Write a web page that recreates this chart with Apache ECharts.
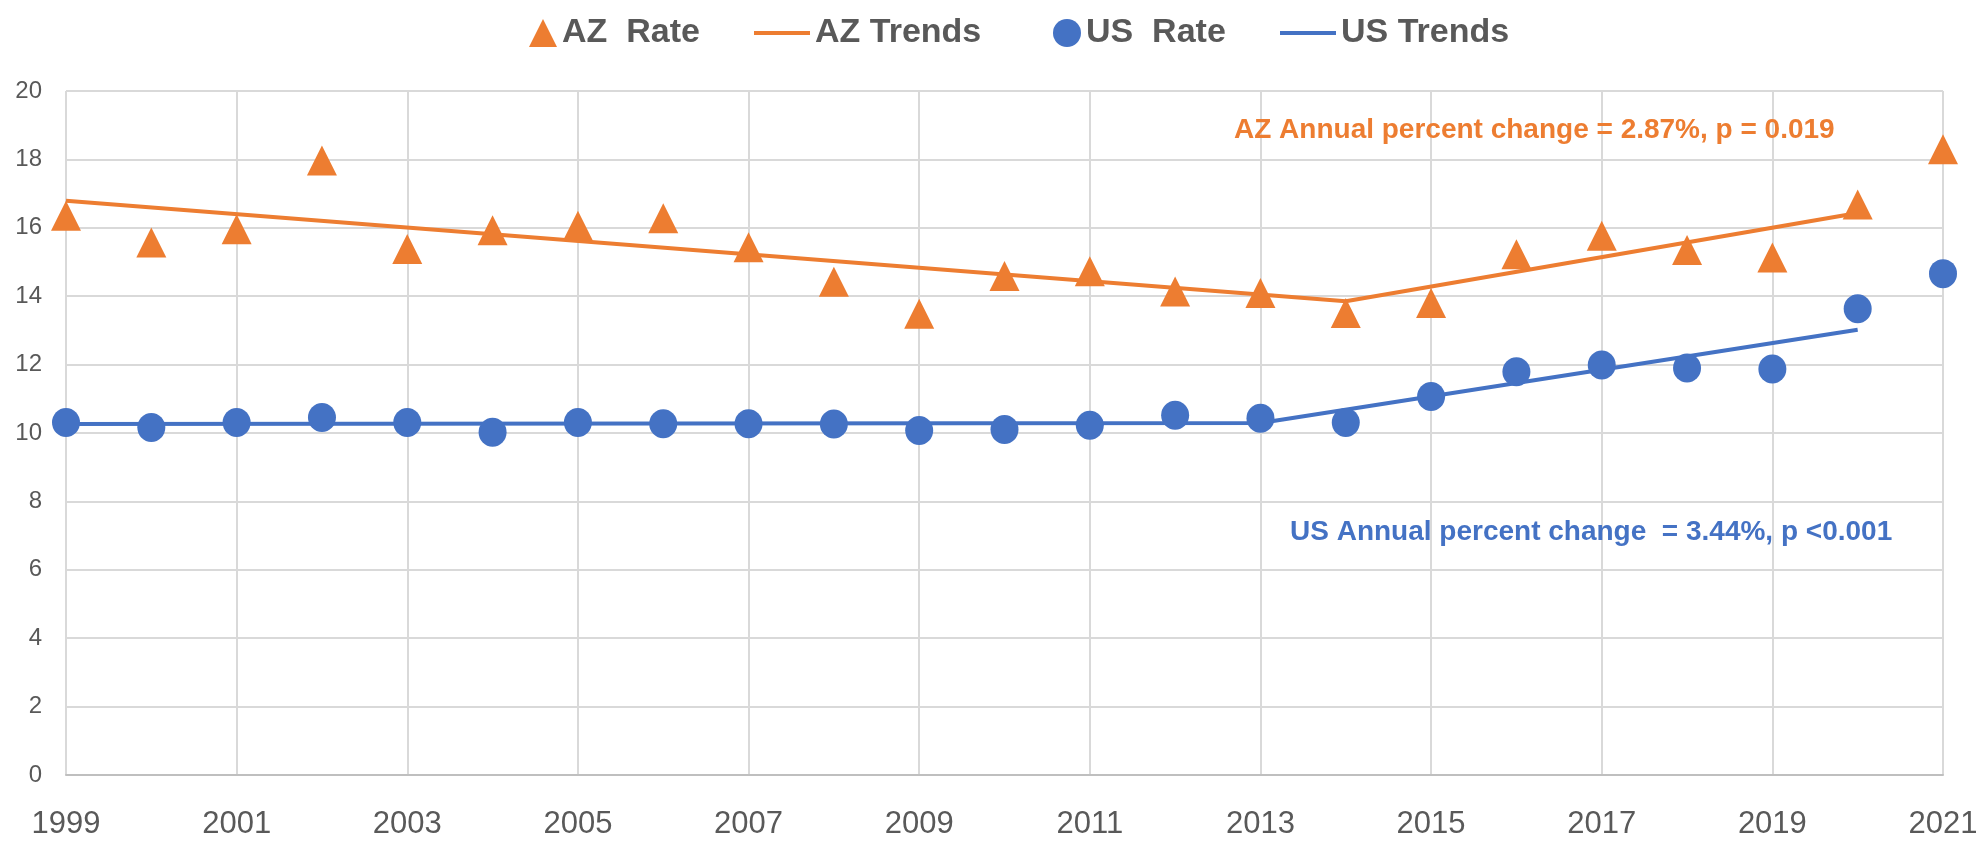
<!DOCTYPE html>
<html>
<head>
<meta charset="utf-8">
<script src="https://cdn.jsdelivr.net/npm/echarts@6/dist/echarts.min.js"></script>
<style>
  html, body { margin: 0; padding: 0; background: #fff; }
  #chart { width: 1985px; height: 842px; }
</style>
</head>
<body>
<div id="chart"></div>
<script>
// years on the x axis
var years = ['1999', '2000', '2001', '2002', '2003', '2004', '2005', '2006', '2007', '2008', '2009',
  '2010', '2011', '2012', '2013', '2014', '2015', '2016', '2017', '2018', '2019', '2020', '2021']

// observed rates
var azRate = [16.35, 15.57, 15.96, 17.97, 15.38, 15.93, 16.06, 16.28, 15.43, 14.42, 13.49,
  14.59, 14.73, 14.14, 14.09, 13.51, 13.80, 15.23, 15.77, 15.35, 15.13, 16.68, 18.30]
var usRate = [10.31, 10.16, 10.31, 10.45, 10.31, 10.02, 10.31, 10.27, 10.27, 10.26, 10.07,
  10.10, 10.23, 10.52, 10.43, 10.31, 11.07, 11.79, 11.99, 11.90, 11.87, 13.63, 14.66]

// joinpoint trend lines (start, joinpoint, end)
var azTrendYears = ['1999', '2014', '2020']
var azTrend = [16.79, 13.85, 16.43]
var usTrendYears = ['1999', '2013', '2020']
var usTrend = [10.26, 10.29, 13.02]

var yTicks = { min: 0, max: 20, step: 2 }

var ORANGE = '#ED7D31'
var BLUE = '#4472C4'
var FONT = '"Liberation Sans Narrow", "Liberation Sans", sans-serif'

function pairs(xs, ys) {
  return xs.map(function (x, i) { return [x, ys[i]] })
}

// one legend box per item so each icon can have its own size
function legendItem(name, left, icon, w, h) {
  return {
    left: left,
    top: 8,
    icon: icon,
    itemWidth: w,
    itemHeight: h,
    selectedMode: false,
    textStyle: { fontSize: 34, fontWeight: 'bold', color: '#595959', fontFamily: FONT, lineHeight: 40 },
    data: [name]
  }
}

var chart = echarts.init(document.getElementById('chart'))
chart.setOption({
  animation: false,
  textStyle: { fontFamily: FONT },
  legend: [
    legendItem('AZ  Rate', 524, 'triangle', 28, 28),
    legendItem('AZ Trends', 749, 'rect', 56, 4),
    legendItem('US  Rate', 1048, 'circle', 28, 28),
    legendItem('US Trends', 1275, 'rect', 56, 4)
  ],
  grid: { left: 66, right: 42, top: 91, bottom: 67 },
  xAxis: {
    type: 'category',
    data: years,
    boundaryGap: false,
    axisLine: { lineStyle: { color: '#BFBFBF', width: 2 } },
    axisTick: { show: false },
    axisLabel: { interval: 1, fontSize: 31, color: '#595959', margin: 34, fontFamily: FONT },
    splitLine: { show: true, interval: 1, lineStyle: { color: '#D9D9D9', width: 2 } }
  },
  yAxis: {
    type: 'value',
    min: yTicks.min,
    max: yTicks.max,
    interval: yTicks.step,
    axisLine: { show: false },
    axisTick: { show: false },
    axisLabel: { fontSize: 24, color: '#595959', margin: 24, fontFamily: FONT },
    splitLine: { lineStyle: { color: '#D9D9D9', width: 2 } }
  },
  graphic: [
    {
      type: 'text', left: 1234, top: 116, z: 10,
      style: {
        text: 'AZ Annual percent change = 2.87%, p = 0.019',
        fill: ORANGE, font: 'bold 28px ' + FONT
      }
    },
    {
      type: 'text', left: 1290, top: 518, z: 10,
      style: {
        text: 'US Annual percent change  = 3.44%, p <0.001',
        fill: BLUE, font: 'bold 28px ' + FONT
      }
    }
  ],
  series: [
    {
      name: 'AZ Trends',
      type: 'line',
      data: pairs(azTrendYears, azTrend),
      symbol: 'none',
      lineStyle: { color: ORANGE, width: 4 },
      itemStyle: { color: ORANGE },
      z: 2
    },
    {
      name: 'US Trends',
      type: 'line',
      data: pairs(usTrendYears, usTrend),
      symbol: 'none',
      lineStyle: { color: BLUE, width: 4 },
      itemStyle: { color: BLUE },
      z: 2
    },
    {
      name: 'AZ  Rate',
      type: 'scatter',
      data: azRate,
      symbol: 'triangle',
      symbolSize: [30, 30],
      itemStyle: { color: ORANGE, opacity: 1 },
      z: 3
    },
    {
      name: 'US  Rate',
      type: 'scatter',
      data: usRate,
      symbol: 'circle',
      symbolSize: [28, 29],
      itemStyle: { color: BLUE, opacity: 1 },
      z: 3
    }
  ]
})
</script>
</body>
</html>
